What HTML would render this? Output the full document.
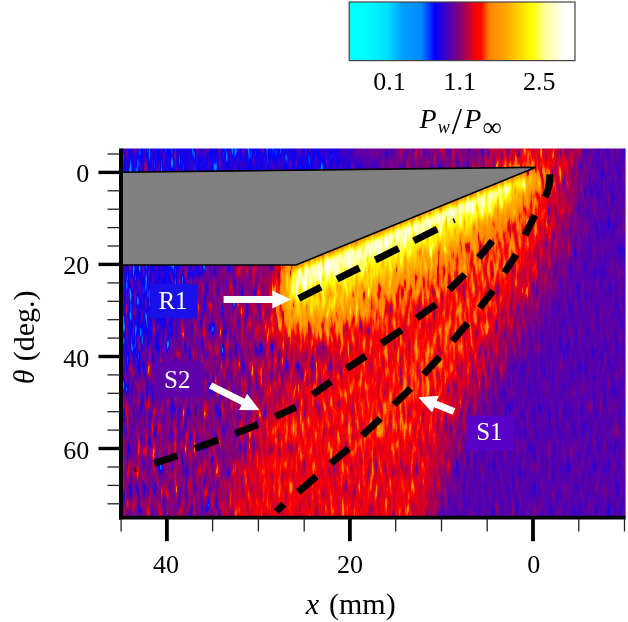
<!DOCTYPE html>
<html><head><meta charset="utf-8"><title>figure</title>
<style>
html,body{margin:0;padding:0;background:#fff;overflow:hidden}
svg{display:block}
text{font-family:"Liberation Serif","DejaVu Serif",serif;fill:#000}
.it{font-style:italic}
</style></head><body>
<svg width="628" height="622" viewBox="0 0 628 622">
<defs>
<linearGradient id="cb" x1="0" y1="0" x2="1" y2="0">
<stop offset="0" stop-color="#00ffff"/>
<stop offset="0.065" stop-color="#00ffff"/>
<stop offset="0.17" stop-color="#00e0ff"/>
<stop offset="0.235" stop-color="#00a0ff"/>
<stop offset="0.32" stop-color="#0088ff"/>
<stop offset="0.379" stop-color="#0000ff"/>
<stop offset="0.46" stop-color="#6400a0"/>
<stop offset="0.51" stop-color="#a00058"/>
<stop offset="0.565" stop-color="#ff0000"/>
<stop offset="0.585" stop-color="#ff0a00"/>
<stop offset="0.62" stop-color="#ff8200"/>
<stop offset="0.697" stop-color="#ffaa00"/>
<stop offset="0.81" stop-color="#ffff00"/>
<stop offset="0.866" stop-color="#ffff96"/>
<stop offset="0.955" stop-color="#ffffff"/>
<stop offset="1" stop-color="#ffffff"/>
</linearGradient>
<clipPath id="pc"><rect x="121" y="148.6" width="504.6" height="369"/></clipPath>
<filter id="b20" x="-30%" y="-30%" width="160%" height="160%"><feGaussianBlur stdDeviation="20"/></filter>
<filter id="b12" x="-30%" y="-30%" width="160%" height="160%"><feGaussianBlur stdDeviation="12"/></filter>
<filter id="b8" x="-30%" y="-30%" width="160%" height="160%"><feGaussianBlur stdDeviation="8"/></filter>
<filter id="b5" x="-30%" y="-30%" width="160%" height="160%"><feGaussianBlur stdDeviation="5"/></filter>
<filter id="b3" x="-30%" y="-30%" width="160%" height="160%"><feGaussianBlur stdDeviation="3"/></filter>

<filter id="cmap" filterUnits="userSpaceOnUse" x="110" y="140" width="520" height="385" color-interpolation-filters="sRGB">
<feColorMatrix in="SourceGraphic" type="matrix" values="1 0 0 0 0  1 0 0 0 0  1 0 0 0 0  0 0 0 0 1" result="F"/>
<feColorMatrix in="SourceGraphic" type="matrix" values="0 1 0 0 0  0 1 0 0 0  0 1 0 0 0  0 0 0 0 1" result="G"/>
<feTurbulence type="fractalNoise" baseFrequency="0.27 0.05" numOctaves="2" seed="7" result="n0"/>
<feColorMatrix in="n0" type="matrix" values="1 0 0 0 0  1 0 0 0 0  1 0 0 0 0  0 0 0 0 1" result="n1a"/>
<feComponentTransfer in="n1a" result="n1"><feFuncR type="table" tableValues="0.000 0.000 0.000 0.000 0.000 0.000 0.000 0.030 0.104 0.169 0.225 0.274 0.316 0.352 0.383 0.409 0.432 0.452 0.469 0.485 0.500 0.515 0.531 0.548 0.568 0.591 0.617 0.648 0.684 0.726 0.775 0.831 0.896 0.970 1.000 1.000 1.000 1.000 1.000 1.000 1.000"/><feFuncG type="table" tableValues="0.000 0.000 0.000 0.000 0.000 0.000 0.000 0.030 0.104 0.169 0.225 0.274 0.316 0.352 0.383 0.409 0.432 0.452 0.469 0.485 0.500 0.515 0.531 0.548 0.568 0.591 0.617 0.648 0.684 0.726 0.775 0.831 0.896 0.970 1.000 1.000 1.000 1.000 1.000 1.000 1.000"/><feFuncB type="table" tableValues="0.000 0.000 0.000 0.000 0.000 0.000 0.000 0.030 0.104 0.169 0.225 0.274 0.316 0.352 0.383 0.409 0.432 0.452 0.469 0.485 0.500 0.515 0.531 0.548 0.568 0.591 0.617 0.648 0.684 0.726 0.775 0.831 0.896 0.970 1.000 1.000 1.000 1.000 1.000 1.000 1.000"/></feComponentTransfer>
<feComposite in="G" in2="n1" operator="arithmetic" k1="1" k2="0" k3="0" k4="0" result="M"/>
<feComposite in="M" in2="G" operator="arithmetic" k1="0" k2="1" k3="-0.5" k4="0.5" result="T"/>
<feComposite in="F" in2="T" operator="arithmetic" k1="0" k2="1" k3="1" k4="-0.5" result="f"/>
<feComponentTransfer in="f">
<feFuncR type="table" tableValues="0.000 0.000 0.000 0.000 0.000 0.000 0.000 0.000 0.000 0.000 0.000 0.000 0.000 0.000 0.000 0.000 0.000 0.000 0.000 0.000 0.000 0.000 0.000 0.000 0.000 0.000 0.000 0.000 0.000 0.000 0.000 0.000 0.000 0.000 0.000 0.000 0.000 0.000 0.005 0.053 0.101 0.149 0.197 0.246 0.294 0.342 0.390 0.435 0.481 0.526 0.572 0.623 0.679 0.734 0.789 0.845 0.900 0.956 1.000 1.000 1.000 1.000 1.000 1.000 1.000 1.000 1.000 1.000 1.000 1.000 1.000 1.000 1.000 1.000 1.000 1.000 1.000 1.000 1.000 1.000 1.000 1.000 1.000 1.000 1.000 1.000 1.000 1.000 1.000 1.000 1.000 1.000 1.000 1.000 1.000 1.000 1.000 1.000 1.000 1.000 1.000"/>
<feFuncG type="table" tableValues="1.000 1.000 1.000 1.000 1.000 1.000 1.000 0.994 0.983 0.971 0.960 0.949 0.937 0.926 0.914 0.903 0.891 0.880 0.842 0.803 0.765 0.726 0.688 0.649 0.624 0.612 0.601 0.589 0.577 0.565 0.554 0.542 0.530 0.440 0.350 0.261 0.171 0.081 0.000 0.000 0.000 0.000 0.000 0.000 0.000 0.000 0.000 0.000 0.000 0.000 0.000 0.000 0.000 0.000 0.000 0.000 0.000 0.000 0.026 0.153 0.280 0.408 0.514 0.534 0.554 0.574 0.593 0.613 0.633 0.653 0.676 0.705 0.735 0.764 0.794 0.823 0.853 0.882 0.912 0.941 0.971 1.000 1.000 1.000 1.000 1.000 1.000 1.000 1.000 1.000 1.000 1.000 1.000 1.000 1.000 1.000 1.000 1.000 1.000 1.000 1.000"/>
<feFuncB type="table" tableValues="1.000 1.000 1.000 1.000 1.000 1.000 1.000 1.000 1.000 1.000 1.000 1.000 1.000 1.000 1.000 1.000 1.000 1.000 1.000 1.000 1.000 1.000 1.000 1.000 1.000 1.000 1.000 1.000 1.000 1.000 1.000 1.000 1.000 1.000 1.000 1.000 1.000 1.000 0.995 0.950 0.904 0.858 0.813 0.767 0.721 0.676 0.630 0.575 0.521 0.466 0.412 0.358 0.306 0.253 0.200 0.148 0.095 0.042 0.000 0.000 0.000 0.000 0.000 0.000 0.000 0.000 0.000 0.000 0.000 0.000 0.000 0.000 0.000 0.000 0.000 0.000 0.000 0.000 0.000 0.000 0.000 0.000 0.105 0.211 0.316 0.421 0.527 0.611 0.663 0.715 0.766 0.818 0.870 0.922 0.974 1.000 1.000 1.000 1.000 1.000 1.000"/>
<feFuncA type="linear" slope="0" intercept="1"/>
</feComponentTransfer>
</filter>
</defs>
<rect width="628" height="622" fill="#fff"/>

<g clip-path="url(#pc)"><g filter="url(#cmap)">
<rect x="100" y="130" width="540" height="400" fill="rgb(114,27,0)"/>
<polygon points="90,120 330,120 300,550 90,550" fill="rgb(119,82,0)" filter="url(#b20)"/>
<polygon points="90,100 350,100 350,175 300,210 90,210" fill="rgb(101,61,0)" filter="url(#b12)"/>
<polygon points="100,255 200,255 165,340 100,390" fill="rgb(102,92,0)" filter="url(#b12)"/>
<polygon points="225,255 290,255 280,540 100,540 100,470 200,430" fill="rgb(125,82,0)" filter="url(#b20)"/>
<polygon points="540,140 575,150 578,215 560,270 532,322 498,375 468,430 445,480 428,540 300,540 300,300" fill="rgb(129,61,0)" filter="url(#b12)"/>
<polygon points="543,150 556,185 552,215 536,262 507,312 474,362 445,420 420,470 400,540 225,540 250,460 268,400 272,330 280,255" fill="rgb(146,51,0)" filter="url(#b12)"/>
<polygon points="255,325 335,335 345,365 300,395 262,415" fill="rgb(131,78,0)" filter="url(#b12)"/>
<polygon points="250,470 440,440 420,540 225,540" fill="rgb(143,49,0)" filter="url(#b12)"/>
<polygon points="390,120 575,120 566,200 500,180 390,176" fill="rgb(124,61,0)" filter="url(#b12)"/>
<polygon points="480,140 575,140 566,200 500,178" fill="rgb(140,73,0)" filter="url(#b8)"/>
<polygon points="520,210 538,215 490,300 432,380 394,430 350,450 420,350 470,290" fill="rgb(150,61,0)" filter="url(#b8)"/>
<polygon points="540,166 284,262 276,335 330,342 405,305 480,262 532,216 550,185" fill="rgb(158,82,0)" filter="url(#b12)"/>
<polygon points="536,166 288,266 285,320 330,312 400,275 470,235 520,199 542,175" fill="rgb(191,82,0)" filter="url(#b8)"/>
<polygon points="532,169 294,268 291,303 340,283 440,238 510,198" fill="rgb(207,82,0)" filter="url(#b5)"/>
<polygon points="528,171 297,268 293,292 437,226 498,196" fill="rgb(230,92,0)" filter="url(#b5)"/>
<line x1="290" y1="267.5" x2="536" y2="167.3" stroke="rgb(158,82,0)" stroke-width="7" filter="url(#b3)"/>
</g></g>
<polygon points="121,172.3 536,167.3 296,265 121,265" fill="#808080" stroke="#000" stroke-width="1.6" stroke-linejoin="miter"/>
<g stroke="#000" stroke-width="7" fill="none" stroke-linecap="butt">
<line x1="298.8" y1="298.3" x2="321.0" y2="287.2"/>
<line x1="337.0" y1="279.2" x2="359.4" y2="268.0"/>
<line x1="375.3" y1="260.0" x2="398.6" y2="248.4"/>
<line x1="413.8" y1="240.8" x2="437.2" y2="229.1"/>
<line x1="154.4" y1="463.4" x2="177.3" y2="455.8"/>
<line x1="194.8" y1="448.5" x2="218.1" y2="439.9"/>
<line x1="235.3" y1="433.5" x2="257.6" y2="424.6"/>
<line x1="275.4" y1="416.6" x2="295.8" y2="407.1"/>
<line x1="312.9" y1="394.5" x2="330.8" y2="381.7"/>
<line x1="346.7" y1="368.5" x2="365.8" y2="356.2"/>
<line x1="381.7" y1="343.5" x2="401.5" y2="329.8"/>
<line x1="416.8" y1="318" x2="435.9" y2="304.3"/>
<line x1="449.3" y1="289.8" x2="464.7" y2="274.4"/>
<line x1="478.8" y1="257.7" x2="492.5" y2="241"/>
<line x1="276.4" y1="511.5" x2="283.8" y2="504.2"/>
<line x1="298.2" y1="492.1" x2="316.3" y2="476.3"/>
<line x1="330.8" y1="463.7" x2="348.6" y2="448.4"/>
<line x1="362.5" y1="435.4" x2="380.2" y2="418.5"/>
<line x1="394.0" y1="404.6" x2="410.6" y2="388.6"/>
<line x1="423.8" y1="374.4" x2="439.7" y2="356.9"/>
<line x1="452.4" y1="341" x2="467.7" y2="323.4"/>
<line x1="479.8" y1="307.8" x2="493" y2="290.6"/>
<line x1="504.5" y1="272.6" x2="516.1" y2="254.6"/>
<line x1="525.1" y1="235.1" x2="534.9" y2="215.3"/>
<path d="M545.2,197 Q550.6,186 549.8,174.2"/>
</g>
<g stroke="#000" stroke-width="1.6" fill="none"><line x1="453.2" y1="218.5" x2="455" y2="223"/><line x1="134.6" y1="467.5" x2="136" y2="472"/></g>
<rect x="149.7" y="284" width="47.6" height="34.4" fill="#1a10e8"/>
<rect x="154" y="361.5" width="48.4" height="35.5" fill="#5f00aa"/>
<rect x="466.8" y="416" width="46.6" height="34.3" fill="#5a00c8"/>
<g fill="#fff" style="font-size:25px"><text x="158.4" y="308.9" style="fill:#fff">R1</text><text x="164" y="387.9" style="fill:#fff">S2</text><text x="476.2" y="440.2" style="fill:#fff">S1</text></g>
<polygon fill="#fff" points="223.6,303.1 272.3,303.1 272.3,308.6 290.8,299.6 272.3,290.6 272.3,296.1 223.6,296.1"/>
<polygon fill="#fff" points="208.9,388.6 241.5,405.0 239.0,409.9 259.6,410.2 247.1,393.8 244.6,398.8 212.1,382.4"/>
<polygon fill="#fff" points="455.3,408.3 436.8,400.8 438.8,395.7 418.3,397.2 432.1,412.4 434.2,407.3 452.7,414.7"/>
<g stroke="#000" fill="none">
<line x1="121" y1="148.6" x2="121" y2="519.6" stroke-width="4"/>
<line x1="119" y1="517.7" x2="625.6" y2="517.7" stroke-width="3.8"/>
<line x1="98.5" y1="172.4" x2="121" y2="172.4" stroke-width="3.4"/>
<line x1="98.5" y1="264.4" x2="121" y2="264.4" stroke-width="3.4"/>
<line x1="98.5" y1="356.5" x2="121" y2="356.5" stroke-width="3.4"/>
<line x1="98.5" y1="448.5" x2="121" y2="448.5" stroke-width="3.4"/>
<line x1="166.9" y1="517" x2="166.9" y2="541.2" stroke-width="3.8"/>
<line x1="349.9" y1="517" x2="349.9" y2="541.2" stroke-width="3.8"/>
<line x1="533.0" y1="517" x2="533.0" y2="541.2" stroke-width="3.8"/>
</g><g stroke="#222" stroke-width="1.3" fill="none">
<line x1="107.5" y1="154.0" x2="120" y2="154.0"/>
<line x1="107.5" y1="190.8" x2="120" y2="190.8"/>
<line x1="107.5" y1="209.2" x2="120" y2="209.2"/>
<line x1="107.5" y1="227.6" x2="120" y2="227.6"/>
<line x1="107.5" y1="246.0" x2="120" y2="246.0"/>
<line x1="107.5" y1="282.9" x2="120" y2="282.9"/>
<line x1="107.5" y1="301.3" x2="120" y2="301.3"/>
<line x1="107.5" y1="319.7" x2="120" y2="319.7"/>
<line x1="107.5" y1="338.1" x2="120" y2="338.1"/>
<line x1="107.5" y1="374.9" x2="120" y2="374.9"/>
<line x1="107.5" y1="393.3" x2="120" y2="393.3"/>
<line x1="107.5" y1="411.7" x2="120" y2="411.7"/>
<line x1="107.5" y1="430.1" x2="120" y2="430.1"/>
<line x1="107.5" y1="467.0" x2="120" y2="467.0"/>
<line x1="107.5" y1="485.4" x2="120" y2="485.4"/>
<line x1="107.5" y1="503.8" x2="120" y2="503.8"/>
<line x1="624.5" y1="519" x2="624.5" y2="531.5"/>
<line x1="578.8" y1="519" x2="578.8" y2="531.5"/>
<line x1="487.2" y1="519" x2="487.2" y2="531.5"/>
<line x1="441.5" y1="519" x2="441.5" y2="531.5"/>
<line x1="395.7" y1="519" x2="395.7" y2="531.5"/>
<line x1="304.2" y1="519" x2="304.2" y2="531.5"/>
<line x1="258.4" y1="519" x2="258.4" y2="531.5"/>
<line x1="212.6" y1="519" x2="212.6" y2="531.5"/>
<line x1="121.1" y1="519" x2="121.1" y2="531.5"/>
</g>
<g style="font-size:26px">
<text x="89.2" y="182.4" text-anchor="end">0</text>
<text x="89.2" y="274.4" text-anchor="end">20</text>
<text x="89.2" y="366.5" text-anchor="end">40</text>
<text x="89.2" y="458.5" text-anchor="end">60</text>
<text x="166.0" y="572.9" text-anchor="middle">40</text>
<text x="350.1" y="572.9" text-anchor="middle">20</text>
<text x="533.7" y="572.9" text-anchor="middle">0</text>
</g>
<text x="305.8" y="613.6" style="font-size:30px"><tspan class="it">x</tspan><tspan x="329.0">(mm)</tspan></text>
<text transform="translate(34,384.3) rotate(-90)" style="font-size:30px"><tspan class="it">θ</tspan><tspan x="23">(deg.)</tspan></text>
<rect x="349.2" y="2" width="225.8" height="58.6" fill="url(#cb)" stroke="#444" stroke-width="1.2"/>
<g style="font-size:26px"><text x="389.6" y="89.5" text-anchor="middle">0.1</text><text x="459.8" y="89.5" text-anchor="middle">1.1</text><text x="539.2" y="89.5" text-anchor="middle">2.5</text></g>
<text y="127.6" style="font-size:28px"><tspan class="it" x="419.5">P</tspan><tspan class="it" x="437.8" dy="5" style="font-size:18px">w</tspan><tspan x="451.8" dy="1" style="font-size:37px">/</tspan><tspan class="it" x="464.3" dy="-6">P</tspan><tspan x="482.5" dy="8.4" style="font-size:27px">∞</tspan></text>
</svg></body></html>
